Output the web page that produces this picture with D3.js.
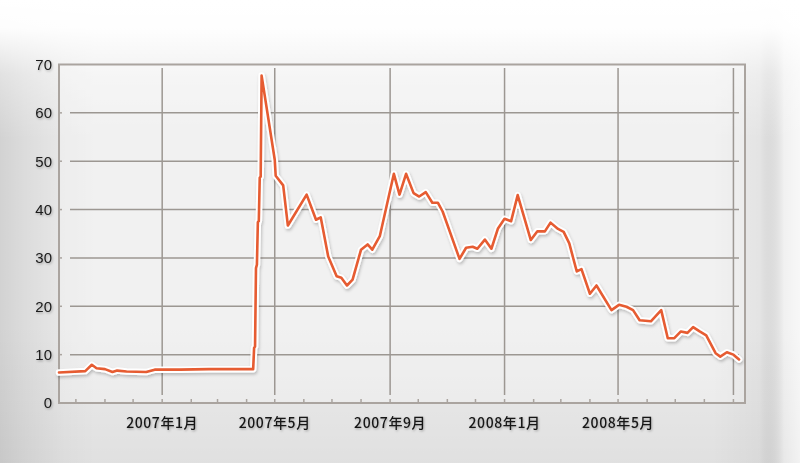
<!DOCTYPE html>
<html><head><meta charset="utf-8">
<script src="https://cdn.jsdelivr.net/npm/d3@7"></script>
<style>body{margin:0;background:#fff}svg{display:block}</style>
</head><body>
<svg id="c" width="800" height="463"></svg>
<script>
const dates = ["2006-09-13","2006-10-11","2006-10-18","2006-10-23","2006-11-01","2006-11-09","2006-11-14","2006-11-24","2006-12-15","2006-12-24",
"2007-01-20","2007-02-20","2007-03-20","2007-04-08","2007-04-09","2007-04-10","2007-04-11","2007-04-12","2007-04-13","2007-04-14","2007-04-15","2007-04-16","2007-04-17",
"2007-05-01","2007-05-02","2007-05-10","2007-05-15","2007-06-04","2007-06-14","2007-06-19","2007-06-27","2007-07-06","2007-07-11","2007-07-17","2007-07-23",
"2007-08-01","2007-08-08","2007-08-13","2007-08-21","2007-09-05","2007-09-11","2007-09-18","2007-09-26","2007-10-02","2007-10-09","2007-10-16","2007-10-22","2007-10-27",
"2007-11-14","2007-11-21","2007-11-28","2007-12-03","2007-12-11","2007-12-18","2007-12-25","2008-01-01","2008-01-08","2008-01-15","2008-01-29",
"2008-02-05","2008-02-13","2008-02-19","2008-02-27","2008-03-04","2008-03-10","2008-03-18","2008-03-23","2008-04-01","2008-04-08","2008-04-24",
"2008-05-02","2008-05-10","2008-05-17","2008-05-24","2008-06-05","2008-06-16","2008-06-23","2008-06-30","2008-07-07","2008-07-14","2008-07-20","2008-07-27",
"2008-08-03","2008-08-13","2008-08-18","2008-08-25","2008-09-01","2008-09-07"];
const values = [6.3,6.6,7.9,7.2,7.0,6.4,6.7,6.5,6.4,6.9,
6.9,7.0,7.0,7.0,11.4,11.7,27.9,28.6,37.4,37.6,46.6,46.8,67.7,
50.3,47.0,45.0,36.7,43.1,37.9,38.4,30.3,26.2,25.9,24.3,25.5,
31.7,32.8,31.7,34.5,47.4,43.1,47.4,43.4,42.7,43.6,41.4,41.4,39.6,
29.8,32.1,32.3,31.9,33.8,31.9,36.1,38.1,37.6,43.0,33.7,
35.5,35.5,37.3,36.0,35.4,33.0,27.2,27.7,22.6,24.3,19.2,
20.3,19.9,19.2,17.1,16.9,19.2,13.4,13.4,14.8,14.5,15.7,14.8,
14.0,10.3,9.6,10.5,10.0,9.0];
const yTicks = [0,10,20,30,40,50,60,70];
const gridMonths = ["2007-01-01","2007-05-01","2007-09-01","2008-01-01","2008-05-01","2008-09-01"];
const xTickLabels = ["2007年1月","2007年5月","2007年9月","2008年1月","2008年5月",""];

const parse = d3.timeParse("%Y-%m-%d");
const data = dates.map((d,i)=>({date:parse(d), value:values[i]}));

const L=59, R=745, T=64.5, B=403;
const x = d3.scaleTime().domain([new Date(2006,8,13), new Date(2008,8,13,8)]).range([L,R]);
const y = d3.scaleLinear().domain([0,70]).range([B,T]);

const svg = d3.select("#c");
const defs = svg.append("defs");

function grad(id, horiz, stops){
  const g = defs.append("linearGradient").attr("id",id).attr("x1",0).attr("y1",0).attr("x2",horiz?1:0).attr("y2",horiz?0:1);
  stops.forEach(s=>g.append("stop").attr("offset",s[0]).attr("stop-color",s[1]).attr("stop-opacity",s[2]));
}
grad("gTop", false, [["0%","#fff",1],["6%","#fff",0.95],["16%","#fff",0.35],["30%","#fff",0],["100%","#fff",0]]);
grad("gBot", false, [["0%","#000",0],["70%","#000",0],["100%","#000",0.05]]);
grad("gLeft", true, [["0%","#000",0.11],["3%","#000",0.07],["8%","#000",0.02],["12%","#000",0],["100%","#000",0]]);
grad("gRight", true, [["0%","#000",0],["89%","#000",0],["95%","#000",0.035],["98%","#fff",0.25],["100%","#fff",0.6]]);

const ts = defs.append("filter").attr("id","txtShadow").attr("x","-20%").attr("y","-30%").attr("width","140%").attr("height","170%");
ts.append("feDropShadow").attr("dx",0.8).attr("dy",1.2).attr("stdDeviation",0.8).attr("flood-color","#000").attr("flood-opacity",0.3);

const ls = defs.append("filter").attr("id","lineShadow").attr("x","-10%").attr("y","-10%").attr("width","120%").attr("height","120%");
ls.append("feDropShadow").attr("dx",1).attr("dy",2).attr("stdDeviation",1.6).attr("flood-color","#000").attr("flood-opacity",0.22);

svg.append("rect").attr("width",800).attr("height",463).attr("fill","#ececec");
["gBot","gLeft","gRight","gTop"].forEach(id=>svg.append("rect").attr("width",800).attr("height",463).attr("fill",`url(#${id})`));

svg.append("rect").attr("x",L).attr("y",T).attr("width",R-L).attr("height",B-T).attr("fill","#fff").attr("opacity",0.25);

const gridColor = "#9c9792", frameColor = "#aaa49f";

svg.append("g").selectAll("line").data(yTicks.filter(v=>v>0 && v<70)).join("line")
  .attr("x1",70).attr("x2",739).attr("y1",d=>y(d)).attr("y2",d=>y(d))
  .attr("stroke",gridColor).attr("stroke-width",1.5);
svg.append("g").selectAll("line").data(gridMonths.map(parse)).join("line")
  .attr("x1",d=>x(d)).attr("x2",d=>x(d)).attr("y1",68).attr("y2",395)
  .attr("stroke",gridColor).attr("stroke-width",1.5);

svg.append("rect").attr("x",L).attr("y",T).attr("width",R-L).attr("height",B-T)
  .attr("fill","none").attr("stroke",frameColor).attr("stroke-width",2);

svg.append("g").selectAll("line").data(yTicks.filter(v=>v>0 && v<70)).join("line")
  .attr("x1",L).attr("x2",L+3).attr("y1",d=>y(d)).attr("y2",d=>y(d))
  .attr("stroke",frameColor).attr("stroke-width",1.5);
const months = d3.timeMonth.range(new Date(2006,9,1), new Date(2008,8,2));
svg.append("g").selectAll("line").data(months).join("line")
  .attr("x1",d=>x(d)).attr("x2",d=>x(d)).attr("y1",B-4).attr("y2",B)
  .attr("stroke",frameColor).attr("stroke-width",1.5);

svg.append("g").attr("filter","url(#txtShadow)").selectAll("text").data(yTicks).join("text")
  .attr("x",52).attr("y",d=>y(d)).attr("dy","0.36em").attr("text-anchor","end")
  .attr("font-family","'Liberation Sans', Arial, sans-serif").attr("font-size",15).attr("fill","#1a1a1a")
  .text(d=>d);

svg.append("g").attr("filter","url(#txtShadow)").selectAll("text").data(gridMonths.map((m,i)=>({d:parse(m),t:xTickLabels[i]}))).join("text")
  .attr("x",d=>x(d.d)).attr("y",428).attr("text-anchor","middle")
  .attr("font-family","'Noto Sans CJK JP', sans-serif").attr("font-size",14).attr("font-weight",500).attr("letter-spacing","0.6px").attr("fill","#151515")
  .text(d=>d.t);

const line = d3.line().x(d=>x(d.date)).y(d=>y(d.value));
const lg = svg.append("g").attr("filter","url(#lineShadow)");
lg.append("path").datum(data).attr("d",line).attr("fill","none").attr("stroke","#ffffff").attr("stroke-width",6.5)
  .attr("stroke-linejoin","round").attr("stroke-linecap","round");
lg.append("path").datum(data).attr("d",line).attr("fill","none").attr("stroke","#e65b31").attr("stroke-width",2.6)
  .attr("stroke-linejoin","round").attr("stroke-linecap","round");
</script>
</body></html>
